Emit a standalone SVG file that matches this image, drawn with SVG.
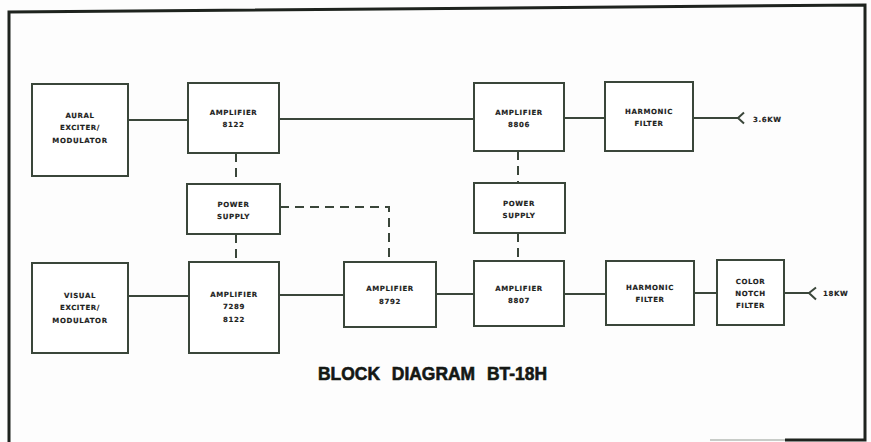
<svg xmlns="http://www.w3.org/2000/svg" width="871" height="442" viewBox="0 0 871 442">
<style>
.box{fill:#fff;stroke:#3a463a;stroke-width:2}
.ln{fill:none;stroke:#3a463a;stroke-width:2}
.dash{fill:none;stroke:#3a463a;stroke-width:2;stroke-dasharray:9 6}
.t{font-family:"DejaVu Sans",sans-serif;font-weight:bold;font-size:7px;letter-spacing:0.6px;fill:#1c221c;stroke:#1c221c;stroke-width:0.15;text-anchor:middle}
.lbl{font-family:"DejaVu Sans",sans-serif;font-weight:bold;font-size:7px;letter-spacing:0.6px;fill:#1c221c;stroke:#1c221c;stroke-width:0.15}
</style>
<rect x="0" y="0" width="871" height="442" fill="#fdfdfd"/>
<g id="frame">
<path d="M9,442 L9,12 L865,5 L865,440 L785,440" fill="none" stroke="#1e231e" stroke-width="3"/>
<path d="M710,440 L785,440" fill="none" stroke="#c8ccc8" stroke-width="2"/>
</g>
<g id="connectors">
<path class="ln" d="M128,120 L188,120"/>
<path class="ln" d="M279,119 L474,119"/>
<path class="ln" d="M564,118 L605,118"/>
<path class="ln" d="M693,118 L738,118"/>
<path class="ln" d="M744,112.5 L738,118 L744,123.5"/>
<path class="dash" d="M236,153 L236,184"/>
<path class="dash" d="M236,234 L236,262"/>
<path class="dash" d="M280,207 L389,207 L389,262"/>
<path class="dash" d="M518,151 L518,183"/>
<path class="dash" d="M518,233 L518,261"/>
<path class="ln" d="M128,296 L189,296"/>
<path class="ln" d="M279,295 L344,295"/>
<path class="ln" d="M436,294 L474,294"/>
<path class="ln" d="M564,294 L606,294"/>
<path class="ln" d="M694,293 L717,293"/>
<path class="ln" d="M784,293 L809,293"/>
<path class="ln" d="M816,287.5 L809,293 L816,299.5"/>
</g>
<g id="aural">
<rect class="box" x="32" y="84" width="96" height="92"/>
<text class="t" x="80" y="118">AURAL</text>
<text class="t" x="80" y="130">EXCITER/</text>
<text class="t" x="80" y="142.5">MODULATOR</text>
</g>
<g id="amp8122">
<rect class="box" x="188" y="83" width="91" height="70"/>
<text class="t" x="233.5" y="114.5">AMPLIFIER</text>
<text class="t" x="233.5" y="126.5">8122</text>
</g>
<g id="amp8806">
<rect class="box" x="474" y="83" width="90" height="68"/>
<text class="t" x="519" y="114.5">AMPLIFIER</text>
<text class="t" x="519" y="126.5">8806</text>
</g>
<g id="harm1">
<rect class="box" x="605" y="82" width="88" height="69"/>
<text class="t" x="649" y="113.5">HARMONIC</text>
<text class="t" x="649" y="125.5">FILTER</text>
</g>
<g id="out1">
<text class="lbl" x="753" y="121.5">3.6KW</text>
</g>
<g id="ps1">
<rect class="box" x="187" y="184" width="93" height="50"/>
<text class="t" x="233.5" y="206.5">POWER</text>
<text class="t" x="233.5" y="218.5">SUPPLY</text>
</g>
<g id="ps2">
<rect class="box" x="474" y="183" width="91" height="50"/>
<text class="t" x="519" y="205.5">POWER</text>
<text class="t" x="519" y="217.5">SUPPLY</text>
</g>
<g id="visual">
<rect class="box" x="32" y="263" width="96" height="90"/>
<text class="t" x="80" y="297.5">VISUAL</text>
<text class="t" x="80" y="309.5">EXCITER/</text>
<text class="t" x="80" y="322.5">MODULATOR</text>
</g>
<g id="amp7289">
<rect class="box" x="189" y="262" width="90" height="91"/>
<text class="t" x="234" y="296.5">AMPLIFIER</text>
<text class="t" x="234" y="308.5">7289</text>
<text class="t" x="234" y="321.5">8122</text>
</g>
<g id="amp8792">
<rect class="box" x="344" y="262" width="92" height="65"/>
<text class="t" x="390" y="290.5">AMPLIFIER</text>
<text class="t" x="390" y="303.5">8792</text>
</g>
<g id="amp8807">
<rect class="box" x="474" y="261" width="90" height="65"/>
<text class="t" x="519" y="290.5">AMPLIFIER</text>
<text class="t" x="519" y="302.5">8807</text>
</g>
<g id="harm2">
<rect class="box" x="606" y="261" width="88" height="64"/>
<text class="t" x="650" y="289.5">HARMONIC</text>
<text class="t" x="650" y="301.5">FILTER</text>
</g>
<g id="notch">
<rect class="box" x="717" y="260" width="67" height="65"/>
<text class="t" x="750.5" y="283.5">COLOR</text>
<text class="t" x="750.5" y="295.5">NOTCH</text>
<text class="t" x="750.5" y="307.5">FILTER</text>
</g>
<g id="out2">
<text class="lbl" x="823" y="295.5">18KW</text>
</g>
<g id="title">
<text x="318" y="379.5" font-family="'Liberation Sans',Arial,sans-serif" font-weight="bold" font-size="17.5" fill="#141814" stroke="#141814" stroke-width="0.6" word-spacing="7" textLength="229" lengthAdjust="spacingAndGlyphs">BLOCK DIAGRAM BT-18H</text>
</g>
</svg>
